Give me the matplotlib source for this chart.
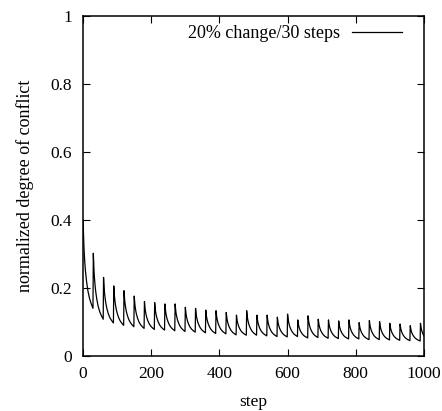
import numpy as np
import matplotlib
matplotlib.use("Agg")
from matplotlib import pyplot as plt

plt.rcParams['font.family'] = ['Liberation Serif', 'DejaVu Serif']

# values
start_value = 0.40
spike_steps = list(range(30, 1000, 30))
peak_values = [0.302, 0.231, 0.206, 0.192, 0.176, 0.160, 0.157, 0.153, 0.153, 0.143,
               0.140, 0.135, 0.133, 0.128, 0.120, 0.133, 0.120, 0.120, 0.114, 0.123,
               0.106, 0.118, 0.108, 0.106, 0.103, 0.106, 0.098, 0.104, 0.101, 0.096,
               0.094, 0.089, 0.096]
# value at the end of each 30-step cycle (just before the next spike)
trough_values = [0.140, 0.108, 0.097, 0.090, 0.086, 0.081, 0.078, 0.076, 0.074, 0.072,
                 0.070, 0.068, 0.066, 0.065, 0.062, 0.061, 0.061, 0.059, 0.057, 0.056,
                 0.057, 0.053, 0.054, 0.052, 0.051, 0.050, 0.050, 0.048, 0.048, 0.047,
                 0.046, 0.045, 0.044, 0.043]
# shape of one decay after a spike (share of the drop still left)
decay_offsets = [0, 1, 2, 3, 5, 7, 10, 14, 19, 24, 29]
decay_fraction = [1, 0.85, 0.74, 0.65, 0.52, 0.42, 0.31, 0.2, 0.11, 0.05, 0]

starts = [0] + spike_steps
tops = [start_value] + peak_values
xs, ys = [], []
for s, top, low in zip(starts, tops, trough_values):
    for off, frac in zip(decay_offsets, decay_fraction):
        x = s + off
        if x > 1000:
            break
        xs.append(x)
        ys.append(low + frac * (top - low))
# last point at 1000
if xs[-1] < 1000:
    s, top, low = starts[-1], tops[-1], trough_values[-1]
    xs.append(1000)
    ys.append(low + np.interp(1000 - s, decay_offsets, decay_fraction) * (top - low))

fig = plt.figure(figsize=(4.42, 4.11), dpi=100)
ax = fig.add_axes([0.188, 0.134, 0.771, 0.827])
ax.plot(xs, ys, color='black', lw=0.9, label='20% change/30 steps')

ax.set_xlim(0, 1000)
ax.set_ylim(0, 1)
ax.set_xticks([0, 200, 400, 600, 800, 1000])
ax.set_yticks([0, 0.2, 0.4, 0.6, 0.8, 1])
ax.set_yticklabels(['0', '0.2', '0.4', '0.6', '0.8', '1'])
ax.tick_params(direction='in', length=5, width=0.8, top=True, right=True,
               labelsize=12.5)
ax.tick_params(axis='x', pad=7)
ax.tick_params(axis='y', pad=8)
for sp in ax.spines.values():
    sp.set_linewidth(1.1)

ax.set_xlabel('step', fontsize=12.5, labelpad=9)
ax.set_ylabel('normalized degree of conflict', fontsize=13, labelpad=12)

ax.legend(loc='upper right', bbox_to_anchor=(0.935, 0.973), frameon=False,
          markerfirst=False, fontsize=13, handlelength=2.75, handletextpad=0.65,
          borderaxespad=0, borderpad=0)

fig.savefig('out.png', dpi=100)
